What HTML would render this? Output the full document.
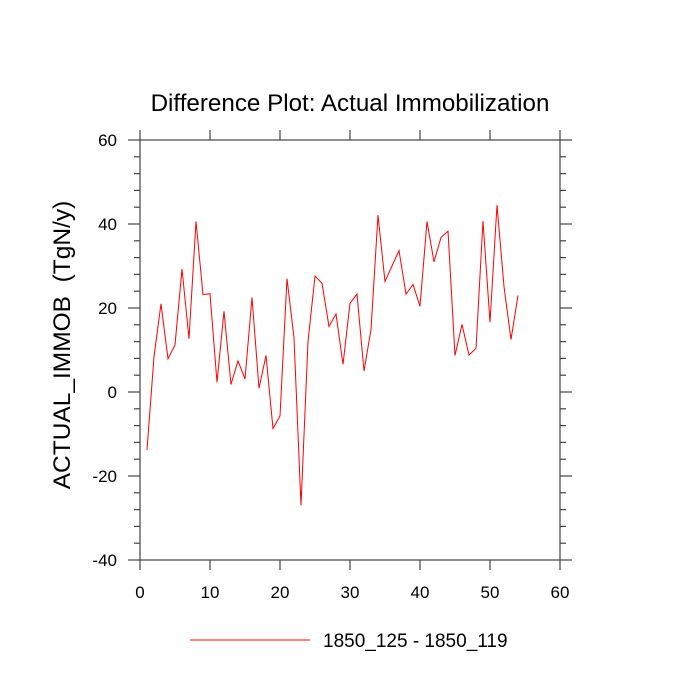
<!DOCTYPE html>
<html><head><meta charset="utf-8"><style>
body{margin:0;background:#fff;}
svg{display:block;font-family:"Liberation Sans",sans-serif;}
</style></head><body>
<svg id="chart" width="700" height="700">
<text x="350" y="111" text-anchor="middle" font-size="24.2">Difference Plot: Actual Immobilization</text>
<text transform="translate(70,345) rotate(-90)" text-anchor="middle" font-size="24.5" style="white-space:pre">ACTUAL_IMMOB  (TgN/y)</text>
<rect x="140" y="140" width="420" height="420" fill="none" stroke="#444" stroke-width="1.2"/>
<g id="axes"></g>
<polyline id="series" fill="none" stroke="#ff0000" stroke-width="1"/>
<line x1="190" y1="640" x2="310" y2="640" stroke="#ff0000" stroke-width="1"/>
<text x="323" y="647" font-size="19">1850_125 - 1850_119</text>
</svg>
<script>
const xTicks=[0,10,20,30,40,50,60];
const yTicks=[-40,-20,0,20,40,60];
const xs=[1,2,3,4,5,6,7,8,9,10,11,12,13,14,15,16,17,18,19,20,21,22,23,24,25,26,27,28,29,30,31,32,33,34,35,36,37,38,39,40,41,42,43,44,45,46,47,48,49,50,51,52,53,54];
const values=[-13.8,8.4,21,7.9,11.2,29.3,12.7,40.6,23.2,23.4,2.3,19.2,1.8,7.4,3.1,22.5,0.9,8.7,-8.7,-5.7,27,12.9,-27,12,27.6,25.9,15.6,18.6,6.6,21.1,23.3,5,14.9,42.1,26.3,30,33.7,23.3,25.6,20.4,40.6,31,36.8,38.3,8.7,16.1,8.8,10.4,40.7,16.6,44.5,25.1,12.5,23];
const X=v=>140+(v-0)*420/60;
const Y=v=>560-(v+40)*420/100;
const g=document.getElementById('axes');
const NS='http://www.w3.org/2000/svg';
function ln(x1,y1,x2,y2){const l=document.createElementNS(NS,'line');l.setAttribute('x1',x1);l.setAttribute('y1',y1);l.setAttribute('x2',x2);l.setAttribute('y2',y2);l.setAttribute('stroke','#444');l.setAttribute('stroke-width','1.2');g.appendChild(l);return l;}
function tx(x,y,s,a){const t=document.createElementNS(NS,'text');t.setAttribute('x',x);t.setAttribute('y',y);t.setAttribute('font-size','17');t.setAttribute('text-anchor',a);t.textContent=s;g.appendChild(t);return t;}
xTicks.forEach(v=>{
  const a=ln(X(v),560,X(v),570);
  
  
  const b=ln(X(v),140,X(v),130);
  
  
  const t=tx(X(v),598,String(v),'middle');
  
  
});
yTicks.forEach(v=>{
  const a=ln(140,Y(v),128,Y(v));
  
  
  const b=ln(560,Y(v),572,Y(v));
  
  
  const t=tx(117,Y(v)+6,String(v),'end');
  
  
});
for(let v=-40;v<=60;v+=4){ if(v%20===0) continue;
  const a=ln(140,Y(v),134,Y(v));
  
  
  const b=ln(560,Y(v),566,Y(v));
  
  
}
document.getElementById('series').setAttribute('points',xs.map((x,i)=>X(x)+','+Y(values[i])).join(' '));
</script>
</body></html>
